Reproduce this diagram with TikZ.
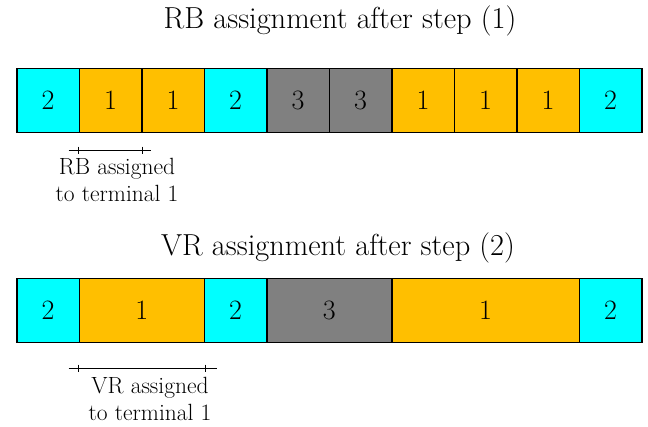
\documentclass[tikz,border=0pt]{standalone}
\usepackage{tikz}
\usetikzlibrary{calc}
\definecolor{cellorange}{RGB}{255,191,0}
\definecolor{cellcyan}{RGB}{0,255,255}
\definecolor{cellgray}{RGB}{128,128,128}
\newlength{\cellw}
\setlength{\cellw}{46.875pt}
\begin{document}
\begin{tikzpicture}[x=0.75pt,y=-0.75pt,
  cell/.style={draw=black,line width=1.3pt,minimum height=48pt,inner sep=0pt,anchor=north west,font=\fontsize{21}{24}\selectfont},
  c2/.style={cell,fill=cellcyan},
  c1/.style={cell,fill=cellorange},
  c3/.style={cell,fill=cellgray},
  title/.style={font=\fontsize{22.8}{26}\selectfont},
  lab/.style={font=\fontsize{17.6}{20.5}\selectfont,align=center},
  brk/.style={line width=1.1pt}]
\useasboundingbox (0,0) rectangle (648,426);
\node[title] (t1) at (340,21) {RB assignment after step (1)};
\node[title] (t2) at (338,248) {VR assignment after step (2)};
% top row
\node[c2,minimum width=\cellw] (a1) at (16,67.5) {2};
\node[c1,minimum width=\cellw] (a2) at (78.5,67.5) {1};
\node[c1,minimum width=\cellw] (a3) at (141,67.5) {1};
\node[c2,minimum width=\cellw] (a4) at (203.5,67.5) {2};
\node[c3,minimum width=\cellw] (a5) at (266,67.5) {3};
\node[c3,minimum width=\cellw] (a6) at (328.5,67.5) {3};
\node[c1,minimum width=\cellw] (a7) at (391,67.5) {1};
\node[c1,minimum width=\cellw] (a8) at (453.5,67.5) {1};
\node[c1,minimum width=\cellw] (a9) at (516,67.5) {1};
\node[c2,minimum width=\cellw] (a10) at (578.5,67.5) {2};
% bottom row
\node[c2,minimum width=\cellw] (b1) at (16,277.5) {2};
\node[c1,minimum width=2\cellw] (b2) at (78.5,277.5) {1};
\node[c2,minimum width=\cellw] (b3) at (203.5,277.5) {2};
\node[c3,minimum width=2\cellw] (b4) at (266,277.5) {3};
\node[c1,minimum width=3\cellw] (b5) at (391,277.5) {1};
\node[c2,minimum width=\cellw] (b6) at (578.5,277.5) {2};
% top bracket
\coordinate (pa) at ($(a2.south west)+(0,17)$);
\coordinate (pb) at ($(a2.south east)+(0,17)$);
\draw[brk] ($(pa)+(-10,0)$) -- ($(pb)+(8.5,0)$);
\draw[brk] ($(pa)+(0,-3.7)$) -- ($(pa)+(0,3.7)$);
\draw[brk] ($(pb)+(0,-3.7)$) -- ($(pb)+(0,3.7)$);
\node[lab] (l1) at (117,180) {RB assigned\\to terminal 1};
% bottom bracket
\coordinate (qa) at ($(b2.south west)+(0,25)$);
\coordinate (qb) at ($(b2.south east)+(0,25)$);
\draw[brk] ($(qa)+(-10,0)$) -- ($(qb)+(11.5,0)$);
\draw[brk] ($(qa)+(0,-3.7)$) -- ($(qa)+(0,3.7)$);
\draw[brk] ($(qb)+(0,-3.7)$) -- ($(qb)+(0,3.7)$);
\node[lab] (l2) at (150,399) {VR assigned\\to terminal 1};
\end{tikzpicture}
\end{document}
